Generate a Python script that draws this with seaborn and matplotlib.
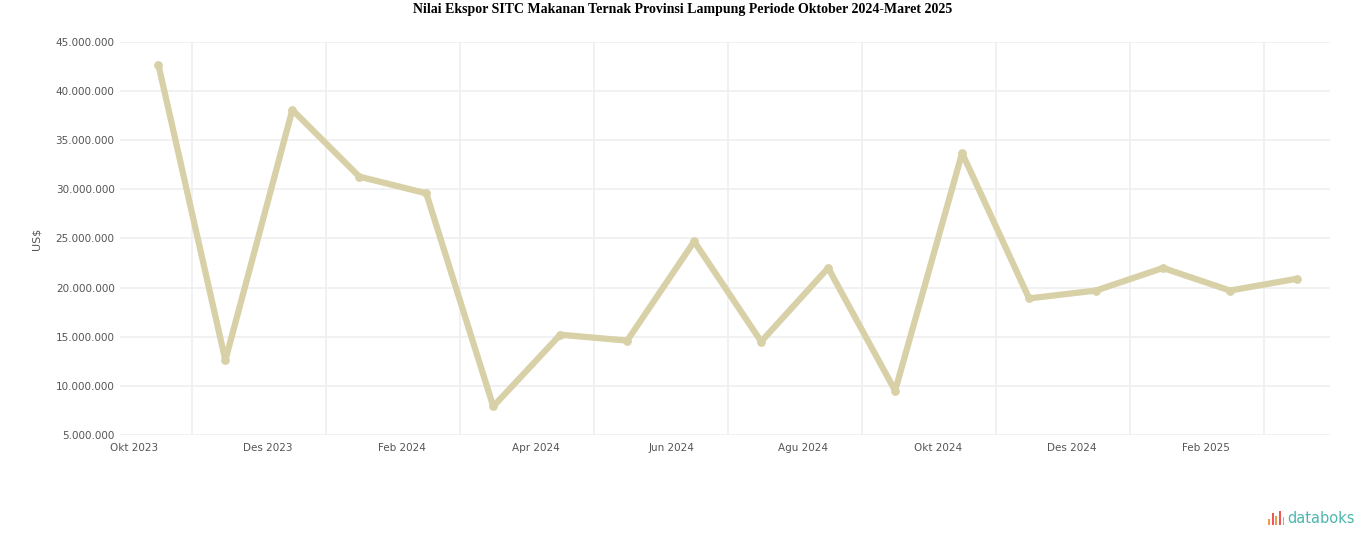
import matplotlib.pyplot as plt
import matplotlib.patches as mpatches
import matplotlib.transforms as mtransforms
import pandas as pd
import seaborn as sns

# monthly values, Oct 2023 - Mar 2025 (million US$)
months = [
    "Okt 2023", "Nov 2023", "Des 2023", "Jan 2024", "Feb 2024", "Mar 2024",
    "Apr 2024", "Mei 2024", "Jun 2024", "Jul 2024", "Agu 2024", "Sep 2024",
    "Okt 2024", "Nov 2024", "Des 2024", "Jan 2025", "Feb 2025", "Mar 2025",
]
values = [
    42.7, 12.6, 38.1, 31.3, 29.6, 7.9,
    15.2, 14.6, 24.7, 14.5, 22.0, 9.5,
    33.7, 18.9, 19.7, 22.0, 19.7, 20.9,
]
y_ticks = [5, 10, 15, 20, 25, 30, 35, 40, 45]

df = pd.DataFrame({"idx": range(len(months)), "bulan": months, "nilai": values})

sns.set_style("white")
plt.rcParams["font.family"] = ["DejaVu Sans"]

line_color = "#d8d0a6"
grid_color = "#efefef"
text_color = "#555555"

fig = plt.figure(figsize=(13.66, 5.47), dpi=100)
ax = fig.add_axes([0.088, 0.205, 0.886, 0.718])

sns.lineplot(
    data=df, x="idx", y="nilai", color=line_color, linewidth=4.5,
    marker="o", markersize=5.5, markeredgecolor=line_color, ax=ax,
)

ax.set_xlim(-0.57, 17.5)
ax.set_ylim(5, 45)
ax.set_yticks(y_ticks)
ax.set_yticklabels([f"{v}.000.000" for v in y_ticks], fontsize=7.5, color=text_color)

tick_pos = list(range(0, len(months), 2))
ax.set_xticks(tick_pos)
ax.set_xticklabels([months[i] for i in tick_pos], fontsize=7.5, color=text_color, ha="right")
ax.set_xticks([i + 0.5 for i in tick_pos], minor=True)
shift = mtransforms.ScaledTranslation(5 / 100, 0, fig.dpi_scale_trans)
for lbl in ax.get_xticklabels():
    lbl.set_transform(lbl.get_transform() + shift)

ax.grid(axis="y", which="major", color=grid_color, linewidth=1.2)
ax.grid(axis="x", which="minor", color=grid_color, linewidth=1.2)
ax.grid(axis="x", which="major", visible=False)
ax.tick_params(axis="both", which="both", length=0)
ax.tick_params(axis="y", pad=4)
ax.tick_params(axis="x", pad=6)
for s in ax.spines.values():
    s.set_visible(False)

ax.set_xlabel("")
ax.set_ylabel("US$", fontsize=8, color=text_color, labelpad=10)

fig.text(0.5, 0.982, "Nilai Ekspor SITC Makanan Ternak Provinsi Lampung Periode Oktober 2024-Maret 2025",
         ha="center", va="center", fontsize=10, fontweight="bold",
         family="Liberation Serif", color="#000000")

# databoks logo
bar_colors = ["#f2994a", "#eb5757", "#f2994a", "#eb5757", "#f2994a"]
bar_heights = [0.012, 0.022, 0.016, 0.026, 0.014]
for k, (c, h) in enumerate(zip(bar_colors, bar_heights)):
    fig.add_artist(mpatches.Rectangle((0.9285 + k * 0.0026, 0.040), 0.0014, h,
                                      transform=fig.transFigure, color=c, lw=0))
fig.text(0.9425, 0.052, "databoks", ha="left", va="center", fontsize=10.5, color="#4db6ac")

fig.savefig("out.png", dpi=100)
